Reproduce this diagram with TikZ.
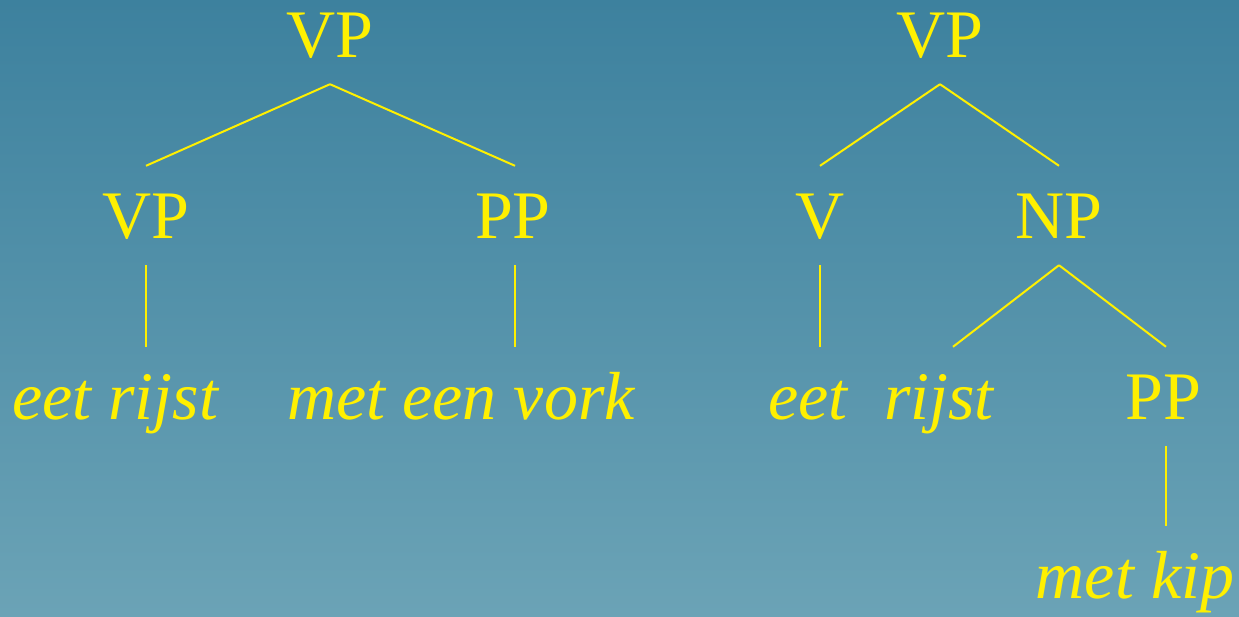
\documentclass[tikz,border=0pt]{standalone}
\usepackage{fontspec}
\setmainfont{Liberation Serif}
\usetikzlibrary{positioning}
\definecolor{bgtop}{RGB}{61,129,158}
\definecolor{bgbot}{RGB}{107,163,182}
\definecolor{treeyellow}{RGB}{255,240,0}

\begin{document}
\begin{tikzpicture}[x=1pt,y=-1pt,
  cat/.style={anchor=base,text=treeyellow,text height=45pt,text depth=0pt,inner ysep=27pt,inner xsep=0pt,font=\fontsize{68}{70}\selectfont},
  word/.style={cat,font=\fontsize{68}{70}\selectfont\itshape},
  branch/.style={draw=treeyellow,line width=2pt}]
  % background
  \shade[top color=bgtop,bottom color=bgbot] (0,0) rectangle (1239,616);
  \useasboundingbox (0,0) rectangle (1239,616);
  % left tree
  \node[cat] (vpa) at (330,57) {VP};
  \node[cat] (vpb) at (146,238) {VP};
  \node[cat] (ppa) at (513,238) {PP};
  \node[word] (eetrijst) at (115,419) {eet rijst};
  \node[word] (metvork) at (461,419) {met een vork};
  \draw[branch] (vpa.south) -- (vpb.north);
  \draw[branch] (vpa.south) -- ([xshift=2pt]ppa.north);
  \draw[branch] (vpb.south) -- (vpb.south |- eetrijst.north);
  \draw[branch] ([xshift=2pt]ppa.south) -- ([xshift=2pt]ppa.south |- metvork.north);
  % right tree
  \node[cat] (vpc) at (940,57) {VP};
  \node[cat] (v) at (820,238) {V};
  \node[cat] (np) at (1059,238) {NP};
  \node[word] (eet) at (808,419) {eet};
  \node[word] (rijst) at (939,419) {rijst};
  \node[cat] (ppb) at (1163,419) {PP};
  \node[word] (metkip) at (1135,598) {met kip};
  \draw[branch] (vpc.south) -- (v.north);
  \draw[branch] (vpc.south) -- (np.north);
  \draw[branch] (v.south) -- (v.south |- eet.north);
  \draw[branch] (np.south) -- ([xshift=14pt]rijst.north);
  \draw[branch] (np.south) -- ([xshift=3pt]ppb.north);
  \draw[branch] ([xshift=3pt]ppb.south) -- ([xshift=3pt]ppb.south |- metkip.north);
\end{tikzpicture}
\end{document}
